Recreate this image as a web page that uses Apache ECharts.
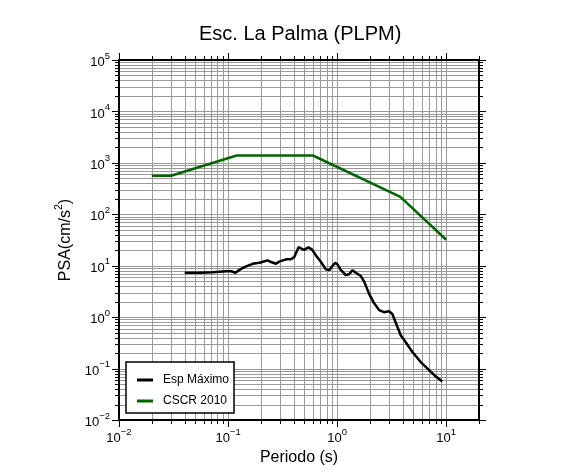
<!DOCTYPE html>
<html><head><meta charset="utf-8">
<script src="https://cdn.jsdelivr.net/npm/echarts@6/dist/echarts.min.js"></script>
<style>html,body{margin:0;padding:0;background:#fff}#c{width:586px;height:475px}</style>
</head><body><div id="c"></div>
<script>
// ---- data ----
const chartTitle = 'Esc. La Palma (PLPM)';
const xAxisName = 'Periodo (s)';
const seriesNames = ['Esp Máximo', 'CSCR 2010'];
const espPeriod = [0.04, 0.055, 0.072, 0.096, 0.107, 0.117, 0.127, 0.141, 0.168, 0.194, 0.231, 0.248, 0.275, 0.295, 0.34, 0.378, 0.405, 0.444, 0.47, 0.495, 0.547, 0.589, 0.64, 0.711, 0.789, 0.847, 0.908, 0.961, 1.009, 1.083, 1.2, 1.29, 1.38, 1.486, 1.65, 1.77, 1.97, 2.18, 2.43, 2.69, 2.99, 3.21, 3.45, 3.84, 4.12, 4.9, 5.85, 6.97, 8.0, 9.2];
const espPSA = [7.3, 7.3, 7.5, 7.8, 7.8, 7.3, 8.3, 9.4, 10.9, 11.4, 12.7, 11.8, 10.9, 12.0, 13.3, 13.3, 14.8, 23.0, 21.6, 20.3, 22.7, 20.6, 15.8, 11.8, 8.5, 8.2, 10.0, 11.4, 10.6, 8.2, 6.6, 6.8, 8.2, 7.3, 6.3, 4.9, 2.8, 1.88, 1.37, 1.25, 1.30, 1.15, 0.78, 0.44, 0.36, 0.21, 0.134, 0.093, 0.071, 0.056];
const cscrPeriod = [0.02, 0.03, 0.12, 0.6, 3.8, 10];
const cscrPSA = [560, 560, 1390, 1390, 218, 32];
const xRange = [0.01, 20];
const yRange = [0.01, 100000];
const xDecades = [-2, -1, 0, 1];           // tick labels 10^-2 ... 10^1
const yDecades = [-2, -1, 0, 1, 2, 3, 4, 5]; // tick labels 10^-2 ... 10^5
const mantissas = [1, 2, 3, 4, 5, 6, 7, 8, 9];

const FONT = 'Liberation Sans, Arial, Helvetica, sans-serif';

function gridValues(decades, range) {
  const out = [];
  decades.forEach(e => mantissas.forEach(m => {
    const v = +(m * Math.pow(10, e)).toPrecision(6);
    if (v >= range[0] * 0.999 && v <= range[1] * 1.001) out.push([v, m === 1 ? 1 : 0]);
  }));
  const lastE = decades[decades.length - 1] + 1;
  mantissas.forEach(m => {
    const v = +(m * Math.pow(10, lastE)).toPrecision(6);
    if (v <= range[1] * 1.001 && !out.some(o => Math.abs(o[0] - v) < 1e-9 * v)) out.push([v, m === 1 ? 1 : 0]);
  });
  return out;
}
const xGrid = gridValues(xDecades, xRange);
const yGrid = gridValues(yDecades.slice(0, -1), yRange);

function isEdge(v, range) {
  return Math.abs(v - range[0]) / v < 1e-6 || Math.abs(v - range[1]) / v < 1e-6;
}

function powLabel(value) {
  const e = Math.round(Math.log10(value));
  if (Math.abs(value - Math.pow(10, e)) / value > 1e-6) return '';
  const es = e < 0 ? '\u2212' + (-e) : '' + e;
  return '{b|10}{e|' + es + '}';
}
const richLabel = {
  b: { fontSize: 13, fontFamily: FONT, color: '#000', verticalAlign: 'bottom', lineHeight: 18 },
  e: { fontSize: 9.5, fontFamily: FONT, color: '#000', verticalAlign: 'top', lineHeight: 10 }
};

const chart = echarts.init(document.getElementById('c'), null, { renderer: 'canvas' });

const option = {
  animation: false,
  backgroundColor: '#fff',
  title: {
    text: chartTitle, left: 199, top: 24, padding: 0,
    textStyle: { fontSize: 20, fontWeight: 'normal', fontFamily: FONT, color: '#000' }
  },
  grid: { left: 119, right: 107, top: 60, bottom: 55, show: true, borderColor: '#000', borderWidth: 2, z: 2 },
  legend: {
    left: 126, top: 362, orient: 'vertical',
    data: seriesNames,
    icon: 'rect', itemWidth: 16, itemHeight: 3, itemGap: 7,
    backgroundColor: '#fff', borderColor: '#000', borderWidth: 1.5,
    padding: [11, 5, 5, 11],
    textStyle: { fontSize: 12, fontFamily: FONT, color: '#000', padding: [0, 0, 0, 5], lineHeight: 14 }
  },
  xAxis: {
    type: 'log', logBase: 10, min: xRange[0], max: xRange[1],
    name: xAxisName, nameLocation: 'middle', nameGap: 26,
    nameTextStyle: { fontSize: 16, fontFamily: FONT, color: '#000' },
    axisLine: { show: false }, axisTick: { show: false }, splitLine: { show: false },
    axisLabel: { formatter: powLabel, rich: richLabel, margin: 7, showMaxLabel: false }
  },
  yAxis: {
    type: 'log', logBase: 10, min: yRange[0], max: yRange[1],
    name: '{a|PSA(cm/s}{s|2}{a|)}', nameLocation: 'middle', nameGap: 36,
    nameTextStyle: {
      fontSize: 16, fontFamily: FONT, color: '#000',
      rich: {
        a: { fontSize: 16, fontFamily: FONT, color: '#000', verticalAlign: 'bottom', lineHeight: 20 },
        s: { fontSize: 10.5, fontFamily: FONT, color: '#000', verticalAlign: 'top', lineHeight: 10 }
      }
    },
    axisLine: { show: false }, axisTick: { show: false }, splitLine: { show: false },
    axisLabel: { formatter: powLabel, rich: richLabel, margin: 9 }
  },
  series: [
    {
      type: 'custom', name: 'xgrid', silent: true, clip: false, z: 1,
      data: xGrid.map(g => [g[0], 1, g[1]]),
      encode: { x: 0, y: 1 },
      renderItem: (params, api) => {
        const v = api.value(0), major = api.value(2) === 1;
        const bot = api.coord([v, yRange[0]]), top = api.coord([v, yRange[1]]);
        const x = Math.round(bot[0]) + 0.5;
        const len = major ? 6 : 3;
        const ch = [];
        if (!isEdge(v, xRange)) ch.push({ type: 'line', shape: { x1: x, y1: top[1], x2: x, y2: bot[1] }, style: { stroke: '#9a9a9a', lineWidth: 1 } });
        ch.push({ type: 'line', shape: { x1: x, y1: bot[1] + 1, x2: x, y2: bot[1] + 1 + len }, style: { stroke: '#000', lineWidth: 1 } });
        ch.push({ type: 'line', shape: { x1: x, y1: top[1] - 1, x2: x, y2: top[1] - 1 - len }, style: { stroke: '#000', lineWidth: 1 } });
        return { type: 'group', children: ch };
      }
    },
    {
      type: 'custom', name: 'ygrid', silent: true, clip: false, z: 1,
      data: yGrid.map(g => [1, g[0], g[1]]),
      encode: { x: 0, y: 1 },
      renderItem: (params, api) => {
        const v = api.value(1), major = api.value(2) === 1;
        const l = api.coord([xRange[0], v]), r = api.coord([xRange[1], v]);
        const y = Math.round(l[1]) + 0.5;
        const len = major ? 6 : 3;
        const ch = [];
        if (!isEdge(v, yRange)) ch.push({ type: 'line', shape: { x1: l[0], y1: y, x2: r[0], y2: y }, style: { stroke: '#9a9a9a', lineWidth: 1 } });
        ch.push({ type: 'line', shape: { x1: l[0] - 1, y1: y, x2: l[0] - 1 - len, y2: y }, style: { stroke: '#000', lineWidth: 1 } });
        ch.push({ type: 'line', shape: { x1: r[0] + 1, y1: y, x2: r[0] + 1 + len, y2: y }, style: { stroke: '#000', lineWidth: 1 } });
        return { type: 'group', children: ch };
      }
    },
    {
      type: 'line', name: seriesNames[0], z: 3,
      data: espPeriod.map((p, i) => [p, espPSA[i]]),
      showSymbol: false, symbol: 'none',
      lineStyle: { color: '#000', width: 2.5 }, itemStyle: { color: '#000' }
    },
    {
      type: 'line', name: seriesNames[1], z: 3,
      data: cscrPeriod.map((p, i) => [p, cscrPSA[i]]),
      showSymbol: false, symbol: 'none',
      lineStyle: { color: '#006400', width: 2.5 }, itemStyle: { color: '#006400' }
    }
  ]
};
chart.setOption(option);
</script>
</body></html>
